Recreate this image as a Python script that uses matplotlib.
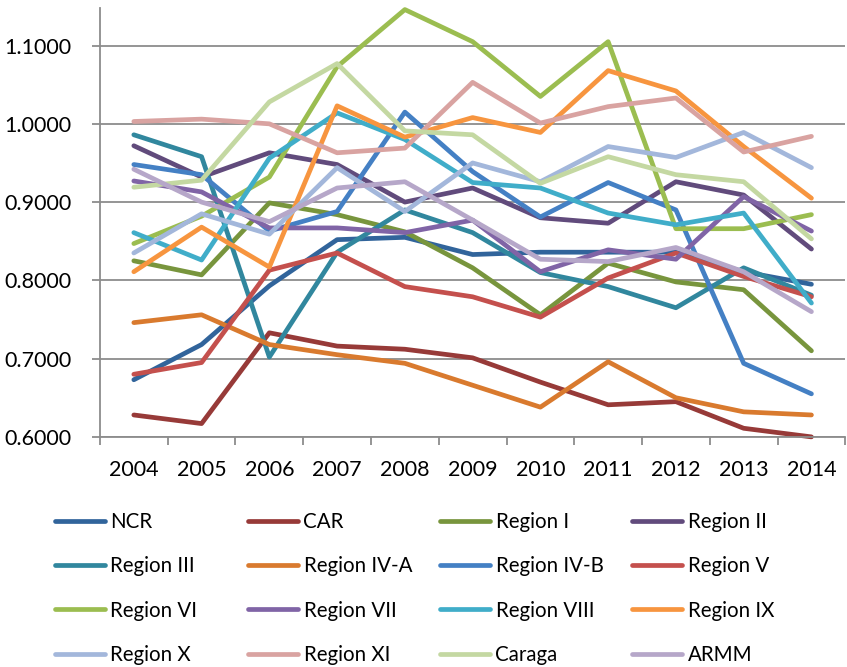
import matplotlib.pyplot as plt
from matplotlib.ticker import FixedLocator, FormatStrFormatter

plt.rcParams["font.family"] = ["Lato", "DejaVu Sans"]

years = ["2004", "2005", "2006", "2007", "2008", "2009", "2010", "2011", "2012", "2013", "2014"]

ncr = [0.673, 0.718, 0.793, 0.852, 0.855, 0.833, 0.836, 0.836, 0.836, 0.811, 0.795]
car = [0.628, 0.617, 0.733, 0.716, 0.712, 0.701, 0.670, 0.641, 0.645, 0.611, 0.600]
region_1 = [0.825, 0.807, 0.899, 0.884, 0.862, 0.816, 0.756, 0.822, 0.798, 0.788, 0.710]
region_2 = [0.972, 0.932, 0.963, 0.948, 0.900, 0.918, 0.880, 0.873, 0.926, 0.909, 0.840]
region_3 = [0.986, 0.958, 0.702, 0.836, 0.890, 0.861, 0.810, 0.792, 0.765, 0.816, 0.781]
region_4a = [0.746, 0.756, 0.718, 0.705, 0.694, 0.666, 0.638, 0.696, 0.650, 0.632, 0.628]
region_4b = [0.948, 0.935, 0.863, 0.888, 1.015, 0.939, 0.881, 0.925, 0.890, 0.694, 0.655]
region_5 = [0.680, 0.695, 0.813, 0.835, 0.792, 0.779, 0.753, 0.803, 0.835, 0.805, 0.779]
region_6 = [0.847, 0.882, 0.932, 1.073, 1.146, 1.105, 1.035, 1.105, 0.866, 0.866, 0.884]
region_7 = [0.927, 0.913, 0.867, 0.867, 0.861, 0.877, 0.811, 0.839, 0.827, 0.907, 0.863]
region_8 = [0.861, 0.826, 0.956, 1.014, 0.980, 0.925, 0.918, 0.886, 0.871, 0.886, 0.771]
region_9 = [0.811, 0.868, 0.817, 1.023, 0.983, 1.008, 0.989, 1.068, 1.042, 0.971, 0.905]
region_10 = [0.835, 0.885, 0.859, 0.944, 0.888, 0.950, 0.926, 0.971, 0.957, 0.989, 0.944]
region_11 = [1.003, 1.006, 1.000, 0.963, 0.969, 1.053, 1.001, 1.022, 1.033, 0.964, 0.984]
caraga = [0.919, 0.928, 1.028, 1.077, 0.991, 0.986, 0.924, 0.958, 0.935, 0.926, 0.853]
armm = [0.942, 0.900, 0.875, 0.918, 0.926, 0.877, 0.827, 0.824, 0.842, 0.811, 0.760]

series = [
    ("NCR", ncr, "#31649b"),
    ("CAR", car, "#973a38"),
    ("Region I", region_1, "#78953d"),
    ("Region II", region_2, "#614b7c"),
    ("Region III", region_3, "#31879e"),
    ("Region IV-A", region_4a, "#d97a2e"),
    ("Region IV-B", region_4b, "#4480c4"),
    ("Region V", region_5, "#c4504d"),
    ("Region VI", region_6, "#9bbd50"),
    ("Region VII", region_7, "#8064a6"),
    ("Region VIII", region_8, "#40adc9"),
    ("Region IX", region_9, "#f7953f"),
    ("Region X", region_10, "#a3b7db"),
    ("Region XI", region_11, "#d9a3a1"),
    ("Caraga", caraga, "#c4d8a2"),
    ("ARMM", armm, "#b6a7c9"),
]

fig = plt.figure(figsize=(8.47, 6.67), dpi=100)
ax = fig.add_axes([0.118, 0.345, 0.88, 0.643])

x = range(len(years))
lines = []
for name, vals, color in series:
    ln, = ax.plot(x, vals, color=color, lw=3.4, label=name, clip_on=False,
                  solid_capstyle="round", solid_joinstyle="round")
    lines.append(ln)

ax.set_xlim(-0.5, len(years) - 0.5)
ax.set_ylim(0.6, 1.148)
ax.set_yticks([0.6, 0.7, 0.8, 0.9, 1.0, 1.1])
ax.yaxis.set_major_formatter(FormatStrFormatter("%.4f"))
ax.set_xticks(list(x))
ax.set_xticklabels(years)
ax.xaxis.set_minor_locator(FixedLocator([i - 0.5 for i in range(len(years) + 1)]))

ax.grid(axis="y", color="#8c8c8c", lw=1.3)
ax.set_axisbelow(True)
for s in ["top", "right"]:
    ax.spines[s].set_visible(False)
for s in ["left", "bottom"]:
    ax.spines[s].set_color("#8c8c8c")
    ax.spines[s].set_linewidth(1.3)

ax.tick_params(axis="x", which="major", length=0, pad=17, labelsize=15.5)
ax.tick_params(axis="x", which="minor", length=5.5, width=1.3, color="#8c8c8c")
ax.tick_params(axis="y", length=5.5, width=1.3, color="#8c8c8c", pad=15, labelsize=15.5)

# legend: four columns, filled row by row like the original
col_x = [55, 248, 440, 632]
for c in range(4):
    handles = lines[c::4]
    fig.legend(handles=handles, labels=[h.get_label() for h in handles],
               loc="upper left", bbox_to_anchor=(col_x[c] / 847, 1 - 512 / 667),
               frameon=False, fontsize=14.8, handlelength=2.45, handletextpad=0.25,
               labelspacing=1.18, borderaxespad=0, borderpad=0)

fig.savefig("out.png", dpi=100)
